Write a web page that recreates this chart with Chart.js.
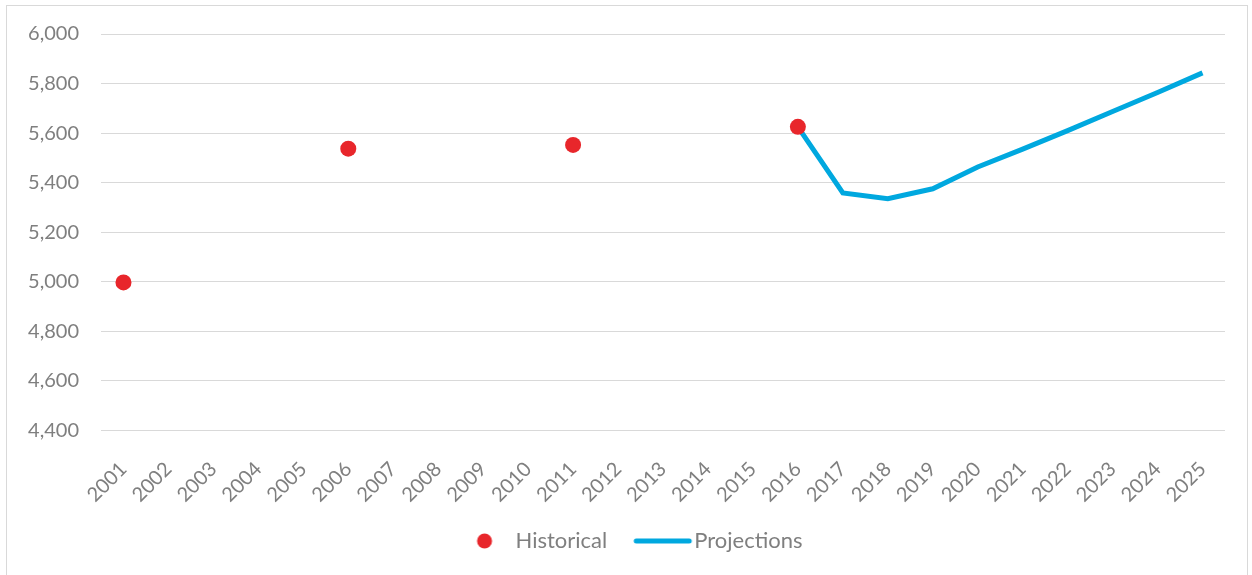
<!DOCTYPE html>
<html>
<head>
<meta charset="utf-8">
<script src="https://cdn.jsdelivr.net/npm/chart.js@4.4.0/dist/chart.umd.min.js"></script>
<style>
  html, body { margin: 0; padding: 0; background: #fff; }
  #wrap { position: absolute; left: 6px; top: 5px; width: 1242px; height: 572px; border: 1px solid #d9d9d9; box-sizing: border-box; }
</style>
</head>
<body>
<div id="wrap"><canvas id="popChart"></canvas></div>
<script>
var years = ['2001','2002','2003','2004','2005','2006','2007','2008','2009','2010','2011','2012','2013',
             '2014','2015','2016','2017','2018','2019','2020','2021','2022','2023','2024','2025'];
var historical = [4997, null, null, null, null, 5537, null, null, null, null, 5552, null, null,
                  null, null, 5625, null, null, null, null, null, null, null, null, null];
var projections = [null, null, null, null, null, null, null, null, null, null, null, null, null,
                   null, null, 5625, 5358, 5335, 5375, 5463, 5535, 5610, 5687, 5764, 5843];

var red = '#e8262b';
var blue = '#00a8df';

// legend symbols drawn on small canvases (wider than the legend box, centred on it)
function dotIcon() {
    var c = document.createElement('canvas');
    c.width = 80; c.height = 18;
    var g = c.getContext('2d');
    g.fillStyle = red;
    g.beginPath();
    g.arc(48, 9, 7.5, 0, Math.PI * 2);
    g.fill();
    return c;
}
function lineIcon() {
    var c = document.createElement('canvas');
    c.width = 80; c.height = 18;
    var g = c.getContext('2d');
    g.strokeStyle = blue;
    g.lineWidth = 5;
    g.lineCap = 'round';
    g.beginPath();
    g.moveTo(21, 9);
    g.lineTo(74, 9);
    g.stroke();
    return c;
}
var icons = [dotIcon(), lineIcon()];

Chart.defaults.font.family = 'Lato, "Open Sans", sans-serif';
Chart.defaults.color = '#7f7f7f';

var popChart = new Chart(document.getElementById('popChart').getContext('2d'), {
    type: 'line',
    data: {
        labels: years,
        datasets: [{
            label: 'Historical',
            data: historical,
            showLine: false,
            pointRadius: 8,
            pointHoverRadius: 8,
            pointBackgroundColor: red,
            pointBorderWidth: 0,
            borderColor: red,
            backgroundColor: red
        }, {
            label: 'Projections',
            data: projections,
            borderColor: blue,
            backgroundColor: blue,
            borderWidth: 5,
            pointRadius: 0,
            spanGaps: false,
            tension: 0
        }]
    },
    options: {
        responsive: true,
        maintainAspectRatio: false,
        animation: false,
        layout: {
            padding: { left: 19, right: 22, top: 28, bottom: 14 }
        },
        scales: {
            x: {
                offset: true,
                grid: { display: false },
                border: { display: false },
                afterFit: function (scale) { scale.height = scale.height - 16; },
                ticks: {
                    font: { size: 20 },
                    color: '#7f7f7f',
                    minRotation: 45,
                    maxRotation: 45,
                    autoSkip: false,
                    padding: 19
                }
            },
            y: {
                min: 4400,
                max: 6000,
                grid: { color: '#d9d9d9', lineWidth: 1, drawTicks: false },
                border: { display: false },
                afterFit: function (scale) {
                    scale.width = 75;
                    scale.paddingTop = 0;
                    scale.paddingBottom = 0;
                },
                ticks: {
                    stepSize: 200,
                    font: { size: 20 },
                    color: '#7f7f7f',
                    padding: 22,
                    callback: function (v) { return v.toLocaleString('en-US'); }
                }
            }
        },
        plugins: {
            tooltip: { enabled: false },
            legend: {
                position: 'bottom',
                labels: {
                    usePointStyle: true,
                    pointStyleWidth: 56,
                    boxHeight: 18,
                    padding: 20,
                    font: { size: 22 },
                    color: '#7f7f7f',
                    generateLabels: function (chart) {
                        return chart.data.datasets.map(function (ds, i) {
                            return {
                                text: ds.label,
                                pointStyle: icons[i],
                                fillStyle: ds.backgroundColor,
                                strokeStyle: ds.borderColor,
                                lineWidth: 0,
                                fontColor: '#7f7f7f',
                                datasetIndex: i,
                                hidden: false
                            };
                        });
                    }
                }
            }
        }
    }
});
</script>
</body>
</html>
